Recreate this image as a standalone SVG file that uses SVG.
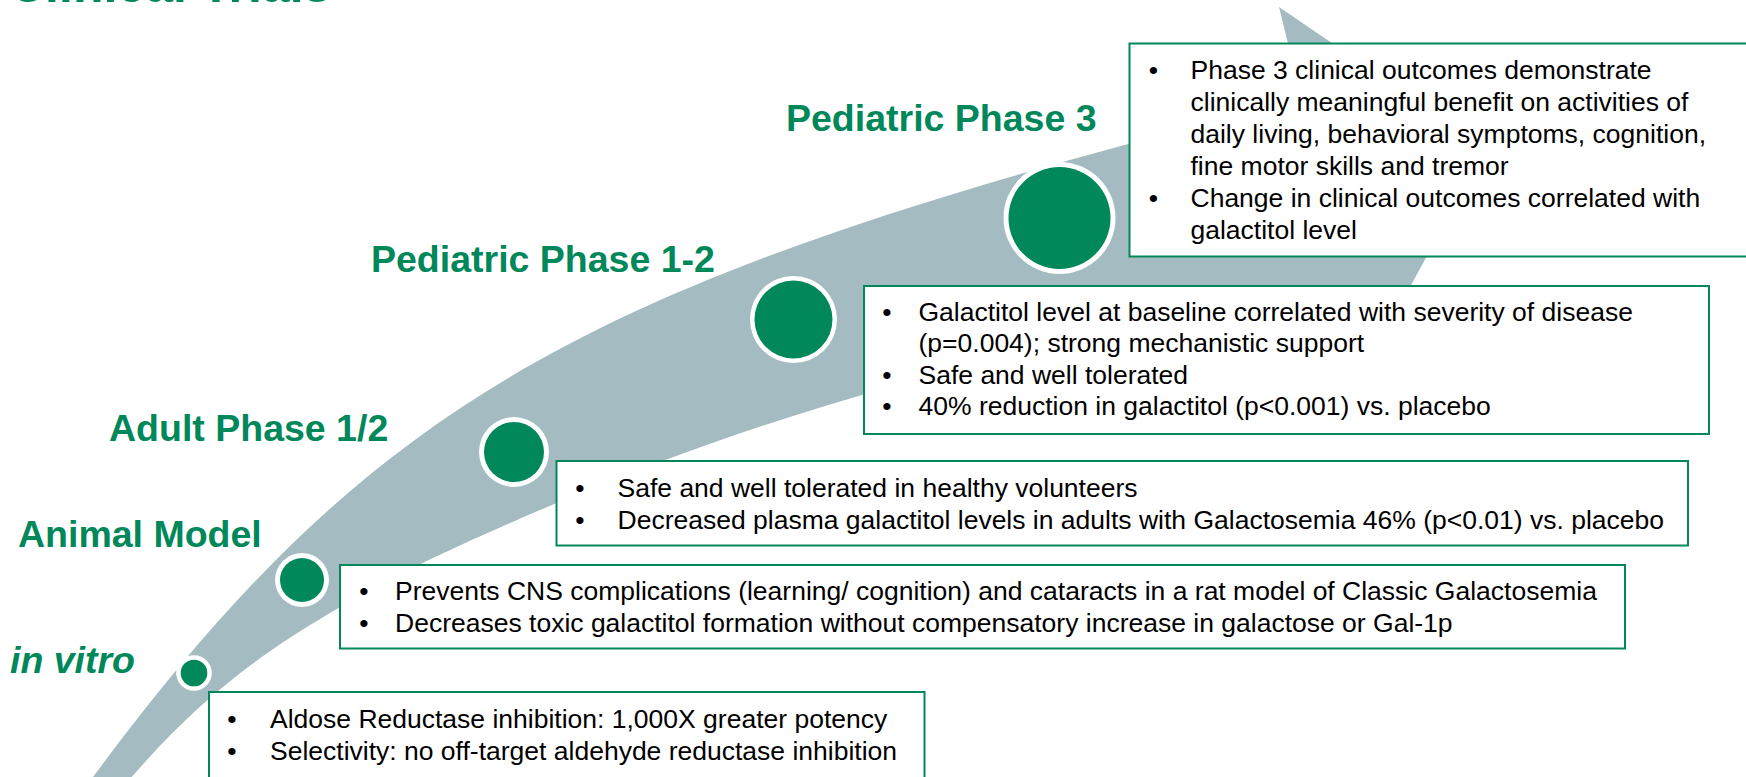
<svg xmlns="http://www.w3.org/2000/svg" width="1746" height="777" viewBox="0 0 1746 777">
<style>
.lbl{font-family:"Liberation Sans",Arial,sans-serif;font-weight:bold;font-size:37.5px;fill:#00875A}
.txt{font-family:"Liberation Sans",Arial,sans-serif;font-size:26.5px;fill:#000}
.bul{font-family:"Liberation Sans",Arial,sans-serif;font-size:26.5px;fill:#000;text-anchor:middle}
.box{fill:#fff;stroke:#00875A;stroke-width:2}
.ring{fill:#fff}
.dot{fill:#00875A}
</style>
<rect x="0" y="0" width="1746" height="777" fill="#fff"/>
<text class="lbl" x="9" y="1.5" style="font-size:50px">Clinical Trials</text>
<g id="connectors">
<path id="band" fill="#A4BCC1" d="M 83,790 L 93,777 C 355,423 562,297 1128,144 L 1302,101 L 1279,7 L 1486,148 L 1366,367.6 L 1350,300 C 1020.3,339.6 748.6,409.6 428.6,560 C 285,631.8 210.8,686.1 131.7,777 L 120,790 Z"/>
</g>
<g id="node-invitro">
<circle class="ring" cx="194" cy="673" r="17.8"/>
<circle class="dot" cx="194" cy="673" r="13.3"/>
<text class="lbl" x="10" y="673" font-style="italic">in vitro</text>
<rect class="box" x="209" y="692" width="715.5" height="100"/>
<text class="bul" x="232" y="727.5">•</text>
<text class="txt" x="270" y="727.5">Aldose Reductase inhibition: 1,000X greater potency</text>
<text class="bul" x="232" y="759.5">•</text>
<text class="txt" x="270" y="759.5">Selectivity: no off-target aldehyde reductase inhibition</text>
</g>
<g id="node-animal">
<circle class="ring" cx="302" cy="580" r="27"/>
<circle class="dot" cx="302" cy="580" r="22"/>
<text class="lbl" x="18" y="546.7">Animal Model</text>
<rect class="box" x="340" y="565" width="1285" height="83.5"/>
<text class="bul" x="364" y="600">•</text>
<text class="txt" x="395" y="600">Prevents CNS complications (learning/ cognition) and cataracts in a rat model of Classic Galactosemia</text>
<text class="bul" x="364" y="631.5">•</text>
<text class="txt" x="395" y="631.5">Decreases toxic galactitol formation without compensatory increase in galactose or Gal-1p</text>
</g>
<g id="node-adult">
<circle class="ring" cx="514" cy="452" r="35"/>
<circle class="dot" cx="514" cy="452" r="30"/>
<text class="lbl" x="109" y="440.7">Adult Phase 1/2</text>
<rect class="box" x="556.5" y="461" width="1131.5" height="84.5"/>
<text class="bul" x="580" y="497">•</text>
<text class="txt" x="617.5" y="497">Safe and well tolerated in healthy volunteers</text>
<text class="bul" x="580" y="528.5">•</text>
<text class="txt" x="617.5" y="528.5">Decreased plasma galactitol levels in adults with Galactosemia 46% (p&lt;0.01) vs. placebo</text>
</g>
<g id="node-ped12">
<circle class="ring" cx="793.5" cy="319.5" r="43.5"/>
<circle class="dot" cx="793.5" cy="319.5" r="39"/>
<text class="lbl" x="371" y="272">Pediatric Phase 1-2</text>
<rect class="box" x="864" y="286" width="845" height="148"/>
<text class="bul" x="887" y="320.5">•</text>
<text class="txt" x="918.5" y="320.5">Galactitol level at baseline correlated with severity of disease</text>
<text class="txt" x="918.5" y="352">(p=0.004); strong mechanistic support</text>
<text class="bul" x="887" y="383.5">•</text>
<text class="txt" x="918.5" y="383.5">Safe and well tolerated</text>
<text class="bul" x="887" y="415">•</text>
<text class="txt" x="918.5" y="415">40% reduction in galactitol (p&lt;0.001) vs. placebo</text>
</g>
<g id="node-ped3">
<circle class="ring" cx="1059.5" cy="218" r="56"/>
<circle class="dot" cx="1059.5" cy="218" r="51"/>
<text class="lbl" x="786" y="131">Pediatric Phase 3</text>
<rect class="box" x="1129.5" y="43.5" width="700" height="213"/>
<text class="bul" x="1153.5" y="79">•</text>
<text class="txt" x="1190.5" y="79">Phase 3 clinical outcomes demonstrate</text>
<text class="txt" x="1190.5" y="111">clinically meaningful benefit on activities of</text>
<text class="txt" x="1190.5" y="143">daily living, behavioral symptoms, cognition,</text>
<text class="txt" x="1190.5" y="175">fine motor skills and tremor</text>
<text class="bul" x="1153.5" y="207">•</text>
<text class="txt" x="1190.5" y="207">Change in clinical outcomes correlated with</text>
<text class="txt" x="1190.5" y="239">galactitol level</text>
</g>
</svg>
